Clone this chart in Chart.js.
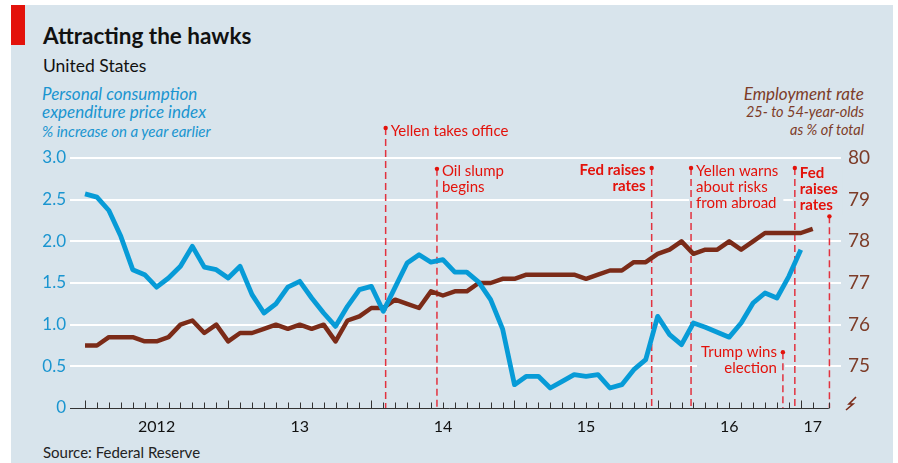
<!DOCTYPE html>
<html>
<head>
<meta charset="utf-8">
<script src="https://cdn.jsdelivr.net/npm/chart.js@4.4.0/dist/chart.umd.min.js"></script>
<style>
  html, body { margin: 0; padding: 0; background: #fff; }
  body { width: 898px; height: 463px; position: relative; overflow: hidden; font-family: Lato, sans-serif; }
  #panel { position: absolute; left: 11px; top: 5px; width: 882px; height: 458px; background: #d8e4ec; }
  #redbar { position: absolute; left: 11px; top: 5px; width: 14px; height: 40px; background: #e3120b; }
  .txt { position: absolute; white-space: nowrap; line-height: 1; }
  #title { left: 43px; top: 25px; font-size: 22.5px; font-weight: bold; color: #111; }
  #sub { left: 43px; top: 57px; font-size: 17.5px; color: #111; }
  .lt { left: 42px; font-style: italic; color: #1a95d0; }
  .rt { right: 34px; font-style: italic; color: #7d3c28; text-align: right; }
  #src { left: 43px; top: 445px; font-size: 15px; color: #222; }
  #chart { position: absolute; left: 0; top: 0; }
</style>
</head>
<body>
<div id="panel"></div>
<div id="redbar"></div>
<div class="txt" id="title">Attracting the hawks</div>
<div class="txt" id="sub">United States</div>
<div class="txt lt" style="top:85px;font-size:17px">Personal consumption</div>
<div class="txt lt" style="top:103px;font-size:17px">expenditure price index</div>
<div class="txt lt" style="top:124px;font-size:15px">% increase on a year earlier</div>
<div class="txt rt" style="top:85px;font-size:17px">Employment rate</div>
<div class="txt rt" style="top:105px;font-size:14.5px">25- to 54-year-olds</div>
<div class="txt rt" style="top:123px;font-size:14.5px">as % of total</div>
<div class="txt" id="src">Source: Federal Reserve</div>
<canvas id="chart" width="898" height="463"></canvas>
<script>
'use strict';

// months counted from Jan 2012 (0 = Jan 2012)
var pceValues = [2.57, 2.53, 2.37, 2.06, 1.66, 1.60, 1.45, 1.56, 1.70, 1.94,
    1.69, 1.66, 1.56, 1.70, 1.36, 1.14, 1.25, 1.45, 1.52, 1.32,
    1.14, 0.98, 1.22, 1.42, 1.46, 1.16, 1.45, 1.74, 1.84, 1.75,
    1.78, 1.63, 1.63, 1.51, 1.30, 0.95, 0.28, 0.38, 0.38, 0.24,
    0.32, 0.40, 0.38, 0.40, 0.24, 0.28, 0.46, 0.58, 1.10, 0.88,
    0.76, 1.02, 0.97, 0.91, 0.85, 1.02, 1.26, 1.38, 1.32, 1.58, 1.90];

var empValues = [75.5, 75.5, 75.7, 75.7, 75.7, 75.6, 75.6, 75.7, 76.0, 76.1,
    75.8, 76.0, 75.6, 75.8, 75.8, 75.9, 76.0, 75.9, 76.0, 75.9,
    76.0, 75.6, 76.1, 76.2, 76.4, 76.4, 76.6, 76.5, 76.4, 76.8,
    76.7, 76.8, 76.8, 77.0, 77.0, 77.1, 77.1, 77.2, 77.2, 77.2,
    77.2, 77.2, 77.1, 77.2, 77.3, 77.3, 77.5, 77.5, 77.7, 77.8,
    78.0, 77.7, 77.8, 77.8, 78.0, 77.8, 78.0, 78.2, 78.2, 78.2, 78.2, 78.3];

var yearLabels = ['2012', '13', '14', '15', '16', '17'];
var yearLabelAt = [6, 18, 30, 42, 54, 61];
var leftTicks = [0, 0.5, 1, 1.5, 2, 2.5, 3];
var rightTicks = [74, 75, 76, 77, 78, 79, 80];

var eventDates = [25.2, 29.5, 47.5, 50.8, 58.5, 59.5, 62.4];
var eventLabels = [
    ['Yellen takes office'],
    ['Oil slump', 'begins'],
    ['Fed raises', 'rates'],
    ['Yellen warns', 'about risks', 'from abroad'],
    ['Trump wins', 'election'],
    ['Fed', 'raises', 'rates'],
    []
];
var eventBold = [false, false, true, false, false, true, false];

// where each note sits, in left-axis units
var eventLayout = [
    { dot: 3.36, text: 3.265, side: 'right' },
    { dot: 2.87, text: 2.785, side: 'right' },
    { dot: 2.88, text: 2.795, side: 'left' },
    { dot: 2.88, text: 2.785, side: 'right' },
    { dot: 0.67, text: 0.615, side: 'left' },
    { dot: 2.88, text: 2.76, side: 'right' },
    { dot: 2.30, text: 2.30, side: 'right' }
];

var BLUE = '#079bd7';
var BROWN = '#7b2b18';
var RED = '#e3120b';
var BG = '#d8e4ec';

function toPoints(values) {
    var pts = [];
    for (var i = 0; i < values.length; i++) {
        pts.push({ x: i, y: values[i] });
    }
    return pts;
}

var notesPlugin = {
    id: 'notes',
    beforeDatasetsDraw: function(chart) {
        var ctx = chart.ctx;
        var x = chart.scales.x;
        var y = chart.scales.y;
        ctx.save();
        for (var i = 0; i < eventDates.length; i++) {
            var px = x.getPixelForValue(eventDates[i]);
            var lay = eventLayout[i];
            var lines = eventLabels[i];
            ctx.font = (eventBold[i] ? 'bold ' : '') + '15px Lato';
            var base = y.getPixelForValue(lay.text);
            if (lines.length) {
                var w = 0;
                for (var j = 0; j < lines.length; j++) {
                    w = Math.max(w, ctx.measureText(lines[j]).width);
                }
                var left = lay.side === 'right' ? px : px - w - 8;
                ctx.fillStyle = BG;
                ctx.fillRect(left - 2, base - 14, w + 12, (lines.length - 1) * 16 + 19);
            }
            // dashed line
            var top = y.getPixelForValue(lay.dot);
            ctx.strokeStyle = '#e2323f';
            ctx.lineWidth = 1.5;
            ctx.setLineDash([7, 4]);
            ctx.beginPath();
            ctx.moveTo(px, top);
            ctx.lineTo(px, y.getPixelForValue(0));
            ctx.stroke();
            ctx.setLineDash([]);
            ctx.fillStyle = RED;
            ctx.beginPath();
            ctx.arc(px, top, 2.2, 0, Math.PI * 2);
            ctx.fill();
            ctx.textBaseline = 'alphabetic';
            ctx.textAlign = lay.side === 'right' ? 'left' : 'right';
            for (var k = 0; k < lines.length; k++) {
                var tx = lay.side === 'right' ? px + 5 : px - 6;
                ctx.fillText(lines[k], tx, base + k * 16);
            }
        }
        ctx.restore();
    },
    afterDatasetsDraw: function(chart) {
        var ctx = chart.ctx;
        var x = chart.scales.x;
        var y = chart.scales.y;
        var y1 = chart.scales.y1;
        var by = Math.round(y.getPixelForValue(0)) + 0.5;
        var end = x.getPixelForValue(62.35);
        ctx.save();
        ctx.strokeStyle = '#333';
        ctx.lineWidth = 1;
        ctx.beginPath();
        ctx.moveTo(chart.chartArea.left, by);
        ctx.lineTo(end, by);
        for (var m = 0; m < empValues.length; m++) {
            var tx = Math.round(x.getPixelForValue(m)) + 0.5;
            ctx.moveTo(tx, by);
            ctx.lineTo(tx, by - (m % 12 === 0 ? 8 : 6));
        }
        var ex = Math.round(end) + 0.5;
        ctx.moveTo(ex, by);
        ctx.lineTo(ex, by - 6);
        ctx.stroke();

        // axis break mark on the right scale
        var bx = chart.chartArea.right + 11;
        var bk = y1.getPixelForValue(74) - 5;
        ctx.strokeStyle = BROWN;
        ctx.lineWidth = 1.6;
        ctx.beginPath();
        ctx.moveTo(bx - 6, bk + 7);
        ctx.lineTo(bx + 1, bk + 1);
        ctx.lineTo(bx - 3, bk + 1);
        ctx.lineTo(bx + 4, bk - 6);
        ctx.stroke();
        ctx.restore();
    }
};

var chart = new Chart(document.getElementById('chart'), {
    type: 'line',
    data: {
        datasets: [{
            label: 'PCE price index',
            data: toPoints(pceValues),
            yAxisID: 'y',
            borderColor: BLUE,
            borderWidth: 4.8,
            pointRadius: 0,
            tension: 0,
            borderJoinStyle: 'round'
        }, {
            label: 'Employment rate',
            data: toPoints(empValues),
            yAxisID: 'y1',
            borderColor: BROWN,
            borderWidth: 4.5,
            pointRadius: 0,
            tension: 0,
            borderJoinStyle: 'round'
        }]
    },
    options: {
        responsive: false,
        animation: false,
        devicePixelRatio: 1,
        layout: { padding: { top: 158, left: 0, right: 0, bottom: 0 } },
        plugins: { legend: { display: false }, tooltip: { enabled: false } },
        scales: {
            x: {
                type: 'linear',
                min: -1.26,
                max: 63.37,
                grid: { display: false, drawTicks: false },
                border: { display: false },
                afterBuildTicks: function(s) {
                    s.ticks = yearLabelAt.map(function(v) { return { value: v }; });
                },
                ticks: {
                    autoSkip: false,
                    maxRotation: 0,
                    padding: 9,
                    color: '#111',
                    font: { family: 'Lato', size: 16 },
                    callback: function(v, i) { return yearLabels[i]; }
                },
                afterFit: function(s) { s.height = 55; }
            },
            y: {
                position: 'left',
                min: 0,
                max: 3,
                afterBuildTicks: function(s) {
                    s.ticks = leftTicks.map(function(v) { return { value: v }; });
                },
                grid: {
                    drawTicks: false,
                    lineWidth: 2,
                    color: function(c) { return c.tick && c.tick.value === 0 ? 'rgba(0,0,0,0)' : '#ffffff'; }
                },
                border: { display: false },
                ticks: {
                    padding: 4,
                    color: '#1a95d0',
                    font: { family: 'Lato', size: 17 },
                    callback: function(v) { return v === 0 ? '0' : v.toFixed(1); }
                },
                afterFit: function(s) { s.width = 70; }
            },
            y1: {
                position: 'right',
                min: 74,
                max: 80,
                afterBuildTicks: function(s) {
                    s.ticks = rightTicks.map(function(v) { return { value: v }; });
                },
                grid: { display: false, drawTicks: false },
                border: { display: false },
                ticks: {
                    padding: 7,
                    color: '#7d3c28',
                    font: { family: 'Lato', size: 19 },
                    callback: function(v) { return v === 74 ? '' : String(v); }
                },
                afterFit: function(s) { s.width = 57; }
            }
        }
    },
    plugins: [notesPlugin]
});
</script>
</body>
</html>
